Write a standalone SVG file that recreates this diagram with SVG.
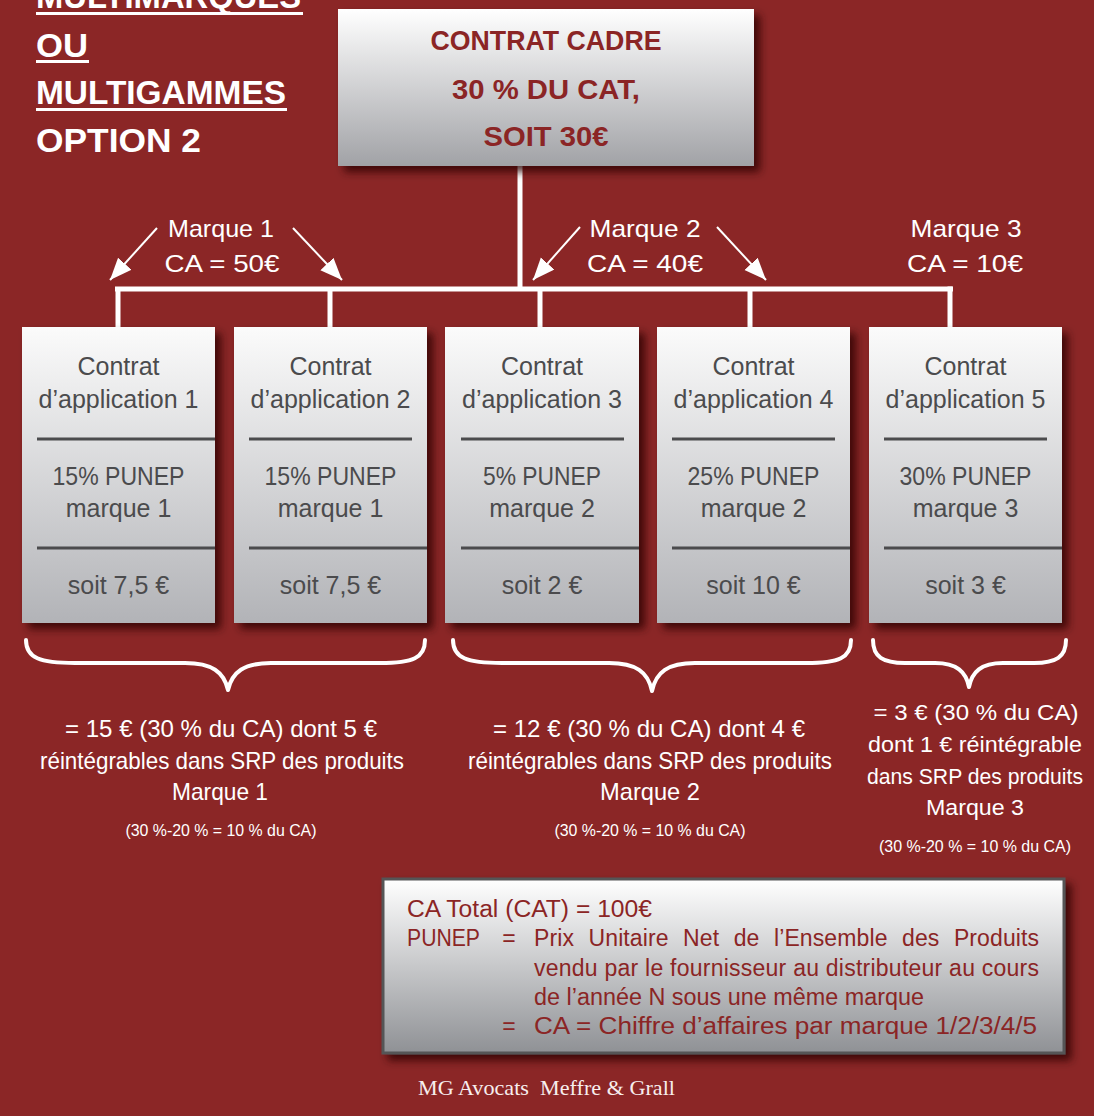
<svg xmlns="http://www.w3.org/2000/svg" width="1094" height="1116" viewBox="0 0 1094 1116">
<defs>
<linearGradient id="gCard" x1="0" y1="0" x2="0" y2="1">
<stop offset="0" stop-color="#fbfbfb"/><stop offset="1" stop-color="#b2b3b7"/>
</linearGradient>
<linearGradient id="gTop" x1="0" y1="0" x2="0" y2="1">
<stop offset="0" stop-color="#ffffff"/><stop offset="1" stop-color="#a1a2a6"/>
</linearGradient>
<linearGradient id="gLeg" x1="0" y1="0" x2="0" y2="1">
<stop offset="0" stop-color="#ffffff"/><stop offset="1" stop-color="#8f9195"/>
</linearGradient>
<filter id="sh" x="-10%" y="-10%" width="130%" height="130%">
<feDropShadow dx="6" dy="6" stdDeviation="4" flood-color="#2a0000" flood-opacity="0.8"/>
</filter>
<marker id="ah" markerUnits="userSpaceOnUse" markerWidth="24" markerHeight="20" refX="22" refY="9" orient="auto">
<path d="M0,0 L22,9 L0,18 z" fill="#ffffff"/>
</marker>
<style>
.title{font-family:"Liberation Sans",Arial,sans-serif;font-weight:bold;font-size:33px;fill:#ffffff;}
.topt{font-family:"Liberation Sans",Arial,sans-serif;font-weight:bold;font-size:28px;fill:#8b2525;text-anchor:middle;}
.lab{font-family:"Liberation Sans",Arial,sans-serif;font-size:24px;fill:#ffffff;text-anchor:middle;}
.ct{font-family:"Liberation Sans",Arial,sans-serif;font-size:25px;fill:#4b4b4d;text-anchor:middle;}
.div{stroke:#4b4b4d;stroke-width:3;}
.bt{font-family:"Liberation Sans",Arial,sans-serif;font-size:24px;fill:#ffffff;text-anchor:middle;}
.bt3{font-family:"Liberation Sans",Arial,sans-serif;font-size:22px;fill:#ffffff;text-anchor:middle;}
.sm{font-family:"Liberation Sans",Arial,sans-serif;font-size:16px;fill:#ffffff;text-anchor:middle;}
.lg{font-family:"Liberation Sans",Arial,sans-serif;font-size:23px;fill:#8b2525;}
.conn{stroke:#ffffff;stroke-width:5;fill:none;}
.arr{stroke:#ffffff;stroke-width:2;fill:none;}
.brace{stroke:#ffffff;stroke-width:4;fill:none;stroke-linecap:round;stroke-linejoin:round;}
.card{fill:url(#gCard);filter:url(#sh);}
</style>
</defs>
<rect x="0" y="0" width="1094" height="1116" fill="#8b2626"/>

<g id="title">
<text class="title" x="36" y="8" textLength="265" lengthAdjust="spacingAndGlyphs">MULTIMARQUES</text>
<rect x="36" y="12" width="267" height="3" fill="#ffffff"/>
<text class="title" x="36" y="57" textLength="52" lengthAdjust="spacingAndGlyphs">OU</text>
<rect x="36" y="60" width="53" height="3" fill="#ffffff"/>
<text class="title" x="36" y="104" textLength="250" lengthAdjust="spacingAndGlyphs">MULTIGAMMES</text>
<rect x="36" y="108" width="251" height="3" fill="#ffffff"/>
<text class="title" x="36" y="152" textLength="165" lengthAdjust="spacingAndGlyphs">OPTION 2</text>
</g>

<g id="connectors">
<line class="conn" x1="520" y1="166" x2="520" y2="289"/>
<line class="conn" x1="115" y1="289" x2="953" y2="289"/>
<line class="conn" x1="118" y1="289" x2="118" y2="327"/>
<line class="conn" x1="330" y1="289" x2="330" y2="327"/>
<line class="conn" x1="540" y1="289" x2="540" y2="327"/>
<line class="conn" x1="750" y1="289" x2="750" y2="327"/>
<line class="conn" x1="950" y1="286.5" x2="950" y2="327"/>
<line class="arr" x1="157" y1="228" x2="110" y2="280" marker-end="url(#ah)"/>
<line class="arr" x1="293" y1="228" x2="342" y2="280" marker-end="url(#ah)"/>
<line class="arr" x1="580" y1="227" x2="533" y2="280" marker-end="url(#ah)"/>
<line class="arr" x1="717" y1="227" x2="766" y2="280" marker-end="url(#ah)"/>
</g>

<g id="top">
<rect x="338" y="9" width="416" height="157" fill="url(#gTop)" filter="url(#sh)"/>
<text class="topt" x="546" y="50" textLength="231" lengthAdjust="spacingAndGlyphs">CONTRAT CADRE</text>
<text class="topt" x="546" y="99" textLength="188" lengthAdjust="spacingAndGlyphs">30 % DU CAT,</text>
<text class="topt" x="546" y="146" textLength="125" lengthAdjust="spacingAndGlyphs">SOIT 30€</text>
</g>

<g id="labels">
<text class="lab" x="221" y="237" textLength="106" lengthAdjust="spacingAndGlyphs">Marque 1</text>
<text class="lab" x="222" y="272" textLength="115" lengthAdjust="spacingAndGlyphs">CA = 50€</text>
<text class="lab" x="645" y="237" textLength="111" lengthAdjust="spacingAndGlyphs">Marque 2</text>
<text class="lab" x="645" y="272" textLength="116" lengthAdjust="spacingAndGlyphs">CA = 40€</text>
<text class="lab" x="966" y="237" textLength="111" lengthAdjust="spacingAndGlyphs">Marque 3</text>
<text class="lab" x="965" y="272" textLength="116" lengthAdjust="spacingAndGlyphs">CA = 10€</text>
</g>

<g id="card1">
<rect class="card" x="22" y="327" width="193" height="296"/>
<text class="ct" x="118.5" y="375">Contrat</text>
<text class="ct" x="118.5" y="408">d’application 1</text>
<line class="div" x1="37" y1="439" x2="215" y2="439"/>
<text class="ct" x="118.5" y="485" textLength="132" lengthAdjust="spacingAndGlyphs">15% PUNEP</text>
<text class="ct" x="118.5" y="517">marque 1</text>
<line class="div" x1="37" y1="548" x2="215" y2="548"/>
<text class="ct" x="118.5" y="594">soit 7,5 €</text>
</g>
<g id="card2">
<rect class="card" x="234" y="327" width="193" height="296"/>
<text class="ct" x="330.5" y="375">Contrat</text>
<text class="ct" x="330.5" y="408">d’application 2</text>
<line class="div" x1="249" y1="439" x2="412" y2="439"/>
<text class="ct" x="330.5" y="485" textLength="132" lengthAdjust="spacingAndGlyphs">15% PUNEP</text>
<text class="ct" x="330.5" y="517">marque 1</text>
<line class="div" x1="249" y1="548" x2="427" y2="548"/>
<text class="ct" x="330.5" y="594">soit 7,5 €</text>
</g>
<g id="card3">
<rect class="card" x="445" y="327" width="194" height="296"/>
<text class="ct" x="542" y="375">Contrat</text>
<text class="ct" x="542" y="408">d’application 3</text>
<line class="div" x1="461" y1="439" x2="624" y2="439"/>
<text class="ct" x="542" y="485" textLength="118" lengthAdjust="spacingAndGlyphs">5% PUNEP</text>
<text class="ct" x="542" y="517">marque 2</text>
<line class="div" x1="461" y1="548" x2="639" y2="548"/>
<text class="ct" x="542" y="594">soit 2 €</text>
</g>
<g id="card4">
<rect class="card" x="657" y="327" width="193" height="296"/>
<text class="ct" x="753.5" y="375">Contrat</text>
<text class="ct" x="753.5" y="408">d’application 4</text>
<line class="div" x1="672" y1="439" x2="835" y2="439"/>
<text class="ct" x="753.5" y="485" textLength="132" lengthAdjust="spacingAndGlyphs">25% PUNEP</text>
<text class="ct" x="753.5" y="517">marque 2</text>
<line class="div" x1="672" y1="548" x2="850" y2="548"/>
<text class="ct" x="753.5" y="594">soit 10 €</text>
</g>
<g id="card5">
<rect class="card" x="869" y="327" width="193" height="296"/>
<text class="ct" x="965.5" y="375">Contrat</text>
<text class="ct" x="965.5" y="408">d’application 5</text>
<line class="div" x1="884" y1="439" x2="1047" y2="439"/>
<text class="ct" x="965.5" y="485" textLength="132" lengthAdjust="spacingAndGlyphs">30% PUNEP</text>
<text class="ct" x="965.5" y="517">marque 3</text>
<line class="div" x1="884" y1="548" x2="1062" y2="548"/>
<text class="ct" x="965.5" y="594">soit 3 €</text>
</g>

<g id="braces">
<path class="brace" d="M26,640 C26,658 40,663 75,663 L185,663 C212,663 224,672 228,690 C232,672 244,663 271,663 L380,663 C413,663 425,658 425,640"/>
<path class="brace" d="M453,640 C453,658 467,663 502,663 L609,663 C636,663 648,672 652,691 C656,672 668,663 695,663 L806,663 C839,663 851,658 851,640"/>
<path class="brace" d="M873,640 C873,657 883,663 905,663 L935,663 C957,663 966,672 969,687 C972,672 981,663 1003,663 L1034,663 C1056,663 1066,657 1066,640"/>
</g>

<g id="sum1">
<text class="bt" x="221" y="737" textLength="312" lengthAdjust="spacingAndGlyphs">= 15 € (30 % du CA) dont 5 €</text>
<text class="bt" x="222" y="769" textLength="364" lengthAdjust="spacingAndGlyphs">réintégrables dans SRP des produits</text>
<text class="bt" x="220" y="800" textLength="96" lengthAdjust="spacingAndGlyphs">Marque 1</text>
<text class="sm" x="221" y="836" textLength="191" lengthAdjust="spacingAndGlyphs">(30 %-20 % = 10 % du CA)</text>
</g>
<g id="sum2">
<text class="bt" x="649" y="737" textLength="312" lengthAdjust="spacingAndGlyphs">= 12 € (30 % du CA) dont 4 €</text>
<text class="bt" x="650" y="769" textLength="364" lengthAdjust="spacingAndGlyphs">réintégrables dans SRP des produits</text>
<text class="bt" x="650" y="800" textLength="100" lengthAdjust="spacingAndGlyphs">Marque 2</text>
<text class="sm" x="650" y="836" textLength="191" lengthAdjust="spacingAndGlyphs">(30 %-20 % = 10 % du CA)</text>
</g>
<g id="sum3">
<text class="bt3" x="976" y="720" textLength="205" lengthAdjust="spacingAndGlyphs">= 3 € (30 % du CA)</text>
<text class="bt3" x="975" y="752" textLength="214" lengthAdjust="spacingAndGlyphs">dont 1 € réintégrable</text>
<text class="bt3" x="975" y="784" textLength="216" lengthAdjust="spacingAndGlyphs">dans SRP des produits</text>
<text class="bt3" x="975" y="815" textLength="98" lengthAdjust="spacingAndGlyphs">Marque 3</text>
<text class="sm" x="975" y="852" textLength="192" lengthAdjust="spacingAndGlyphs">(30 %-20 % = 10 % du CA)</text>
</g>

<g id="legend">
<rect x="383" y="879" width="681" height="174" fill="url(#gLeg)" stroke="#555557" stroke-width="3" filter="url(#sh)"/>
<text class="lg" x="407" y="917" textLength="245" lengthAdjust="spacingAndGlyphs">CA Total (CAT) = 100€</text>
<text class="lg" x="407" y="946" textLength="73" lengthAdjust="spacingAndGlyphs">PUNEP</text>
<text class="lg" x="509" y="946" text-anchor="middle">=</text>
<text class="lg" x="534" y="946" textLength="505" lengthAdjust="spacing" word-spacing="8">Prix Unitaire Net de l’Ensemble des Produits</text>
<text class="lg" x="534" y="976" textLength="505" lengthAdjust="spacing">vendu par le fournisseur au distributeur au cours</text>
<text class="lg" x="534" y="1005" textLength="390" lengthAdjust="spacingAndGlyphs">de l’année N sous une même marque</text>
<text class="lg" x="509" y="1034" text-anchor="middle">=</text>
<text class="lg" x="534" y="1034" textLength="503" lengthAdjust="spacingAndGlyphs">CA = Chiffre d’affaires par marque 1/2/3/4/5</text>
</g>

<g id="footer">
<text x="418" y="1095" xml:space="preserve" font-family="'Liberation Serif','Times New Roman',serif" font-size="21" fill="#f7eeee" textLength="257" lengthAdjust="spacingAndGlyphs">MG Avocats  Meffre &amp; Grall</text>
</g>
</svg>
